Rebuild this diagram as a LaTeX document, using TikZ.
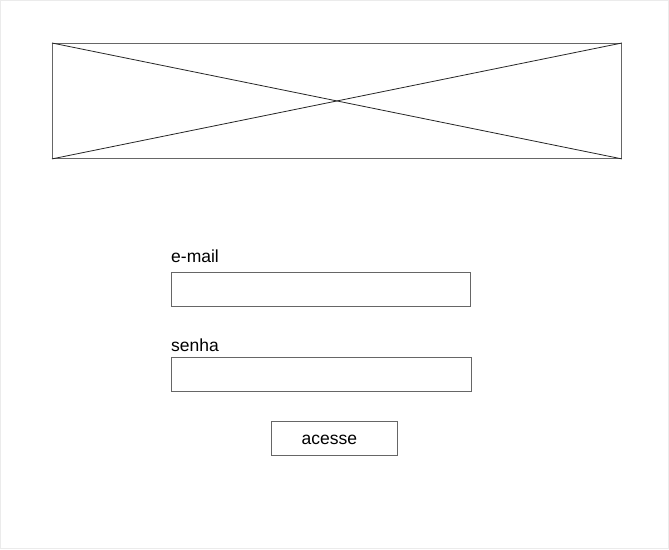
\documentclass[tikz,border=0pt]{standalone}
\usepackage{fontspec}
\setmainfont{Liberation Sans}
\usetikzlibrary{calc}
\tikzset{
	field/.style={draw=black!60, line width=0.9pt, minimum width=299pt, minimum height=34pt, inner sep=0pt, anchor=north west},
	caption/.style={anchor=base west, inner sep=0pt, font=\fontsize{17.5}{20}\selectfont}
}

\begin{document}
\begin{tikzpicture}[x=1pt, y=-1pt]
		%%%%% START %%%%%
		
		\draw[black!8, line width=1pt, fill=white] (0.5, 0.5) rectangle (668.5, 548.5);
		\useasboundingbox (0, 0) rectangle (669, 549);
		
		% imagem
		\node[draw=black!60, line width=0.9pt, minimum width=569pt, minimum height=115pt, inner sep=0pt, anchor=north west] (banner) at (52, 43) {};
		\draw[line width=0.8pt, color=black!85] (banner.north west) -- (banner.south east);
		\draw[line width=0.8pt, color=black!85] (banner.south west) -- (banner.north east);
		
		% formulario
		\node[caption] (lblmail) at (171, 262) {e-mail};
		\node[field] (mail) at (171, 272) {};
		
		\node[caption] (lblsenha) at (171, 351) {senha};
		\node[field, minimum width=300pt] (senha) at (171, 357) {};
		
		\node[field, minimum width=126pt] (acesse) at (271, 421) {};
		\node[font=\fontsize{17.5}{20}\selectfont, anchor=base, inner sep=0pt] (txtacesse) at ($(acesse.center)+(-5, 6)$) {acesse};
		
		%%%%% END %%%%%
	\end{tikzpicture}
\end{document}
